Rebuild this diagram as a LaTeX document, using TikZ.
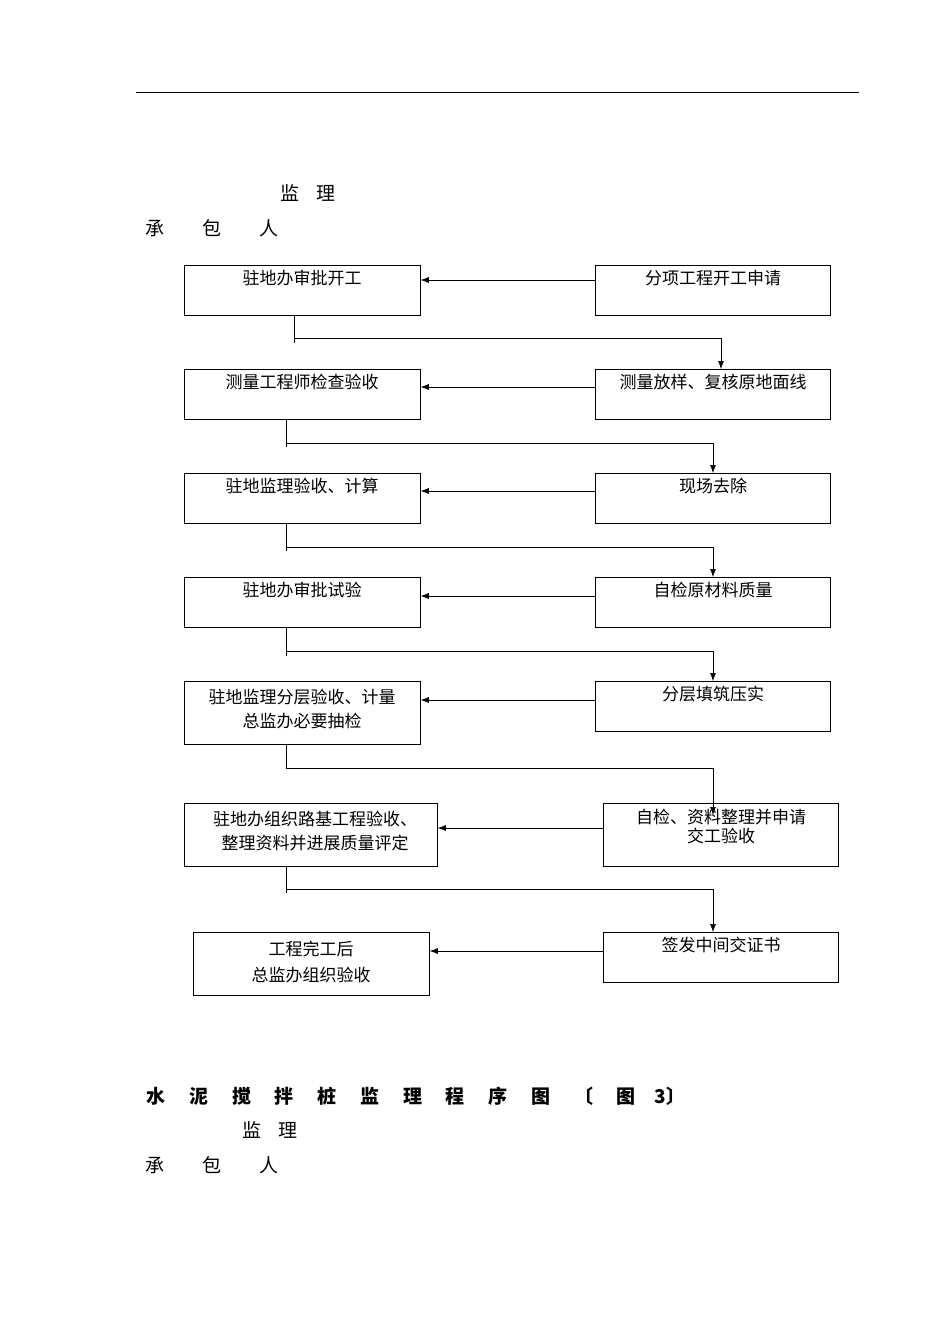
\documentclass[tikz,border=0pt]{standalone}
\usepackage{fontspec}
\setmainfont{Noto Sans CJK SC}
\usetikzlibrary{arrows.meta}
\begin{document}
\begin{tikzpicture}[x=1pt,y=-1pt,
 box/.style={draw,line width=0.8pt,inner sep=0},
 txt/.style={font=\fontsize{17}{21}\selectfont,align=center,anchor=north},
 hd/.style={font=\fontsize{19}{22}\selectfont},
 arr/.style={line width=0.6pt,-{Latex[length=8pt,width=6pt]}},
 ln/.style={line width=0.6pt}]
\useasboundingbox (0,0) rectangle (950,1344);
\draw[line width=0.8pt] (136,92) -- (859,92);
\node[hd] (h1) at (308,193) {监\hspace{0.9em}理};
\node[hd] (h2) at (212,228) {承\qquad 包\qquad 人};
% left boxes
\node[box,minimum width=236,minimum height=50,anchor=north west] (L1) at (184,265) {};
\node[box,minimum width=236,minimum height=50,anchor=north west] (L2) at (184,369) {};
\node[box,minimum width=236,minimum height=50,anchor=north west] (L3) at (184,473) {};
\node[box,minimum width=236,minimum height=50,anchor=north west] (L4) at (184,577) {};
\node[box,minimum width=236,minimum height=63,anchor=north west] (L5) at (184,681) {};
\node[box,minimum width=253,minimum height=63,anchor=north west] (L6) at (184,803) {};
\node[box,minimum width=236,minimum height=63,anchor=north west] (L7) at (193,932) {};
% right boxes
\node[box,minimum width=235,minimum height=50,anchor=north west] (R1) at (595,265) {};
\node[box,minimum width=235,minimum height=50,anchor=north west] (R2) at (595,369) {};
\node[box,minimum width=235,minimum height=50,anchor=north west] (R3) at (595,473) {};
\node[box,minimum width=235,minimum height=50,anchor=north west] (R4) at (595,577) {};
\node[box,minimum width=235,minimum height=50,anchor=north west] (R5) at (595,681) {};
\node[box,minimum width=235,minimum height=63,anchor=north west] (R6) at (603,803) {};
\node[box,minimum width=235,minimum height=50,anchor=north west] (R7) at (603,932) {};
% texts
\node[txt] (tL1) at (302,267) {驻地办审批开工};
\node[txt] (tL2) at (302,371) {测量工程师检查验收};
\node[txt] (tL3) at (302,475) {驻地监理验收、计算};
\node[txt] (tL4) at (302,579) {驻地办审批试验};
\node[txt,font=\fontsize{17}{24}\selectfont] (tL5) at (302,686) {驻地监理分层验收、计量\\总监办必要抽检};
\node[txt,font=\fontsize{17}{24}\selectfont] (tL6) at (315,808) {驻地办组织路基工程验收、\\整理资料并进展质量评定};
\node[txt,font=\fontsize{17}{26}\selectfont] (tL7) at (311,938) {工程完工后\\总监办组织验收};
\node[txt] (tR1) at (713,267) {分项工程开工申请};
\node[txt] (tR2) at (713,371) {测量放样、复核原地面线};
\node[txt] (tR3) at (713,475) {现场去除};
\node[txt] (tR4) at (713,579) {自检原材料质量};
\node[txt] (tR5) at (713,683) {分层填筑压实};
\node[txt,font=\fontsize{17}{19}\selectfont] (tR6) at (721,806) {自检、资料整理并申请\\交工验收};
\node[txt] (tR7) at (721,934) {签发中间交证书};
% horizontal arrows
\draw[arr] (R1.west|-0,280) -- (L1.east|-0,280);
\draw[arr] (R2.west|-0,387) -- (L2.east|-0,387);
\draw[arr] (R3.west|-0,491) -- (L3.east|-0,491);
\draw[arr] (R4.west|-0,596) -- (L4.east|-0,596);
\draw[arr] (R5.west|-0,700) -- (L5.east|-0,700);
\draw[arr] (R6.west|-0,828) -- (L6.east|-0,828);
\draw[arr] (R7.west|-0,951) -- (L7.east|-0,951);
% connectors
\draw[ln] (L1.south-|294,0) -- (294,343);
\draw[arr] (294,338) -- (721,338) -- (R2.north-|721,0);
\draw[ln] (L2.south-|286,0) -- (286,447);
\draw[arr] (286,443) -- (713,443) -- (R3.north-|713,0);
\draw[ln] (L3.south-|286,0) -- (286,551);
\draw[arr] (286,547) -- (713,547) -- (R4.north-|713,0);
\draw[ln] (L4.south-|286,0) -- (286,656);
\draw[arr] (286,651) -- (713,651) -- (R5.north-|713,0);
\draw[ln] (L5.south-|286,0) -- (286,768);
\draw[arr] (286,768) -- (713,768) -- (713,815);
\draw[ln] (L6.south-|286,0) -- (286,893);
\draw[arr] (286,889) -- (713,889) -- (R7.north-|713,0);
% bottom
\node[anchor=west,font=\bfseries\fontsize{19}{22}\selectfont] (t) at (143,1096) {水\hspace{1.25em}泥\hspace{1.25em}搅\hspace{1.25em}拌\hspace{1.25em}桩\hspace{1.25em}监\hspace{1.25em}理\hspace{1.25em}程\hspace{1.25em}序\hspace{1.25em}图\hspace{1.25em}〔\hspace{1.25em}图\hspace{1em}3〕};
\node[hd] (b1) at (270,1130) {监\hspace{0.9em}理};
\node[hd] (b2) at (212,1165) {承\qquad 包\qquad 人};
\end{tikzpicture}
\end{document}
